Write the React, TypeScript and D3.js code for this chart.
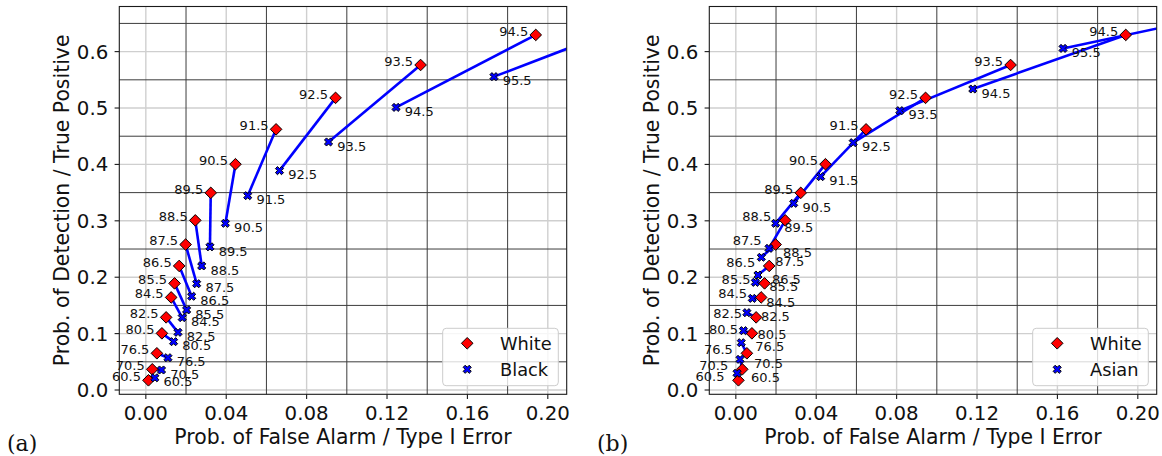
import React from 'react';
import * as d3 from 'd3';

// ---------- data ----------
const thresholds = [60.5, 70.5, 76.5, 80.5, 82.5, 84.5, 85.5, 86.5, 87.5, 88.5, 89.5, 90.5, 91.5, 92.5, 93.5, 94.5, 95.5];

const whiteFA = [0.0013, 0.0032, 0.0055, 0.0080, 0.0101, 0.0126, 0.0143, 0.0166, 0.0198, 0.0246, 0.0323, 0.0446, 0.0648, 0.0944, 0.1367, 0.1940, 0.2690];
const whiteTP = [0.0172, 0.0367, 0.0651, 0.1005, 0.1288, 0.1642, 0.1891, 0.2200, 0.2579, 0.3008, 0.3496, 0.4004, 0.4622, 0.5180, 0.5763, 0.6296, 0.6860];

const blackFA = [0.0045, 0.0078, 0.0110, 0.0138, 0.0160, 0.0181, 0.0203, 0.0228, 0.0253, 0.0278, 0.0319, 0.0396, 0.0507, 0.0665, 0.0909, 0.1245, 0.1732];
const blackTP = [0.0217, 0.0355, 0.0573, 0.0857, 0.1023, 0.1284, 0.1420, 0.1662, 0.1885, 0.2200, 0.2539, 0.2956, 0.3446, 0.3890, 0.4398, 0.5011, 0.5556];

const asianFA = [0.0006, 0.0021, 0.0027, 0.0038, 0.0055, 0.0082, 0.0097, 0.0110, 0.0127, 0.0165, 0.0198, 0.0288, 0.0422, 0.0584, 0.0816, 0.1179, 0.1628];
const asianTP = [0.0297, 0.0544, 0.0839, 0.1052, 0.1371, 0.1625, 0.1909, 0.2039, 0.2353, 0.2512, 0.2956, 0.3310, 0.3783, 0.4386, 0.4953, 0.5337, 0.6057];

const xTicks = [0, 0.04, 0.08, 0.12, 0.16, 0.2];
const yTicks = [0, 0.1, 0.2, 0.3, 0.4, 0.5, 0.6];
const xMinorGrid = [0.02, 0.06, 0.1, 0.14, 0.18];
const yMinorGrid = [0.05, 0.15, 0.25, 0.35, 0.45, 0.55, 0.65];

const xLabel = 'Prob. of False Alarm / Type I Error';
const yLabel = 'Prob. of Detection / True Positive';
const refName = 'White';
const panelDefs = [
  { letter: '(a)', group: 'Black', fa: blackFA, tp: blackTP },
  { letter: '(b)', group: 'Asian', fa: asianFA, tp: asianTP },
];

// ---------- layout ----------
const W = 1162;
const H = 456;
const PW = 447.4;
const PH = 387.8;
const LEFT0 = 119.3;
const TOP = 6.5;
const PANEL_SHIFT = 590;
const FONT = 'DejaVu Sans, Verdana, sans-serif';

const diamondPath = (cx: number, cy: number, r = 5.8) =>
  `M${cx},${cy - r}L${cx + r},${cy}L${cx},${cy + r}L${cx - r},${cy}Z`;

const xMarkerPath = (cx: number, cy: number) => {
  const L = 4.3, w = 1.45;
  const pts: [number, number][] = [
    [-w, L], [w, L], [w, w], [L, w], [L, -w], [w, -w],
    [w, -L], [-w, -L], [-w, -w], [-L, -w], [-L, w], [-w, w],
  ];
  const c = Math.SQRT1_2;
  return 'M' + pts.map(([x, y]) => `${cx + (x - y) * c},${cy + (x + y) * c}`).join('L') + 'Z';
};

function Panel({ idx }: { idx: number }) {
  const def = panelDefs[idx];
  const ox = LEFT0 + PANEL_SHIFT * idx;
  const x = d3.scaleLinear().domain([-0.0132, 0.2094]).range([0, PW]);
  const y = d3.scaleLinear().domain([-0.0076, 0.68]).range([PH, 0]);
  const clipId = `clip-${idx}`;
  const inside = (fa: number, tp: number) => fa >= -0.0132 && fa <= 0.2094 && tp >= -0.0076 && tp <= 0.68;
  const fmtX = d3.format('.2f');
  const fmtY = d3.format('.1f');
  const wide = (t: number) => idx === 1 && t < 89;

  return (
    <g transform={`translate(${ox},${TOP})`}>
      <defs>
        <clipPath id={clipId}>
          <rect x={0} y={0} width={PW} height={PH} />
        </clipPath>
      </defs>
      <rect x={0} y={0} width={PW} height={PH} fill="#fff" />
      {/* major grid (light) */}
      {xTicks.map((t) => (
        <line key={`gx${t}`} x1={x(t)} x2={x(t)} y1={0} y2={PH} stroke="#cfcfcf" strokeWidth={1.4} />
      ))}
      {yTicks.map((t) => (
        <line key={`gy${t}`} x1={0} x2={PW} y1={y(t)} y2={y(t)} stroke="#cfcfcf" strokeWidth={1.4} />
      ))}
      {/* minor grid (dark) */}
      {xMinorGrid.map((t) => (
        <line key={`mx${t}`} x1={x(t)} x2={x(t)} y1={0} y2={PH} stroke="#3c3c3c" strokeWidth={1} />
      ))}
      {yMinorGrid.map((t) => (
        <line key={`my${t}`} x1={0} x2={PW} y1={y(t)} y2={y(t)} stroke="#3c3c3c" strokeWidth={1} />
      ))}
      <g clipPath={`url(#${clipId})`}>
        {thresholds.map((t, i) => (
          <line
            key={`seg${t}`}
            x1={x(whiteFA[i])}
            y1={y(whiteTP[i])}
            x2={x(def.fa[i])}
            y2={y(def.tp[i])}
            stroke="#0000ff"
            strokeWidth={2.6}
            strokeLinecap="butt"
          />
        ))}
        {thresholds.map((t, i) => (
          <path key={`w${t}`} d={diamondPath(x(whiteFA[i]), y(whiteTP[i]))} fill="#ff0000" stroke="#000" strokeWidth={1} />
        ))}
        {thresholds.map((t, i) => (
          <path key={`o${t}`} d={xMarkerPath(x(def.fa[i]), y(def.tp[i]))} fill="#0000ff" stroke="#000" strokeWidth={1} />
        ))}
      </g>
      {/* annotations */}
      {thresholds.map((t, i) =>
        inside(whiteFA[i], whiteTP[i]) ? (
          <text
            key={`wl${t}`}
            x={x(whiteFA[i]) - (wide(t) ? 14 : 7.5)}
            y={y(whiteTP[i]) + 0.7}
            textAnchor="end"
            fontSize={13}
            fontFamily={FONT}
            fill="#111"
          >
            {t.toFixed(1)}
          </text>
        ) : null
      )}
      {thresholds.map((t, i) =>
        inside(def.fa[i], def.tp[i]) ? (
          <text
            key={`ol${t}`}
            x={x(def.fa[i]) + (wide(t) ? 14 : 8.7)}
            y={y(def.tp[i]) + 8.7}
            textAnchor="start"
            fontSize={13}
            fontFamily={FONT}
            fill="#111"
          >
            {t.toFixed(1)}
          </text>
        ) : null
      )}
      {/* spines */}
      <rect x={0} y={0} width={PW} height={PH} fill="none" stroke="#1a1a1a" strokeWidth={1.1} />
      {/* ticks */}
      {xTicks.map((t) => (
        <g key={`xt${t}`}>
          <line x1={x(t)} x2={x(t)} y1={PH} y2={PH + 4.7} stroke="#1a1a1a" strokeWidth={1.1} />
          <text x={x(t)} y={413.5} textAnchor="middle" fontSize={19.8} fontFamily={FONT} fill="#111">
            {fmtX(t)}
          </text>
        </g>
      ))}
      {yTicks.map((t) => (
        <g key={`yt${t}`}>
          <line x1={-4.7} x2={0} y1={y(t)} y2={y(t)} stroke="#1a1a1a" strokeWidth={1.1} />
          <text x={-11} y={y(t) + 7} textAnchor="end" fontSize={19.8} fontFamily={FONT} fill="#111">
            {fmtY(t)}
          </text>
        </g>
      ))}
      {/* axis labels */}
      <text x={PW / 2} y={437.5} textAnchor="middle" fontSize={20.4} fontFamily={FONT} fill="#111">
        {xLabel}
      </text>
      <text
        transform={`translate(${-50.8},${PH / 2}) rotate(-90)`}
        textAnchor="middle"
        fontSize={20.4}
        fontFamily={FONT}
        fill="#111"
      >
        {yLabel}
      </text>
      {/* legend */}
      <g transform={`translate(${323.4},${321.8})`}>
        <rect x={0} y={0} width={115.6} height={57.4} rx={3.5} fill="#fff" fillOpacity={0.8} stroke="#cccccc" strokeWidth={1} />
        <path d={diamondPath(24.5, 15)} fill="#ff0000" stroke="#000" strokeWidth={1} />
        <path d={xMarkerPath(24.5, 41)} fill="#0000ff" stroke="#000" strokeWidth={1} />
        <text x={57.3} y={15 + 6.3} fontSize={17.8} fontFamily={FONT} fill="#111">{refName}</text>
        <text x={57.3} y={41 + 6.3} fontSize={17.8} fontFamily={FONT} fill="#111">{def.group}</text>
      </g>
      {/* panel letter */}
      <text x={7 - LEFT0} y={450.5 - TOP} fontSize={22} fontFamily="DejaVu Serif, serif" fill="#111">
        {def.letter}
      </text>
    </g>
  );
}

export default function App() {
  return (
    <svg
      width={W}
      height={H}
      viewBox={`0 0 ${W} ${H}`}
      style={{ position: 'absolute', left: 0, top: 0, background: '#fff' }}
    >
      <rect x={0} y={0} width={W} height={H} fill="#fff" />
      {panelDefs.map((_, i) => (
        <Panel key={i} idx={i} />
      ))}
    </svg>
  );
}
